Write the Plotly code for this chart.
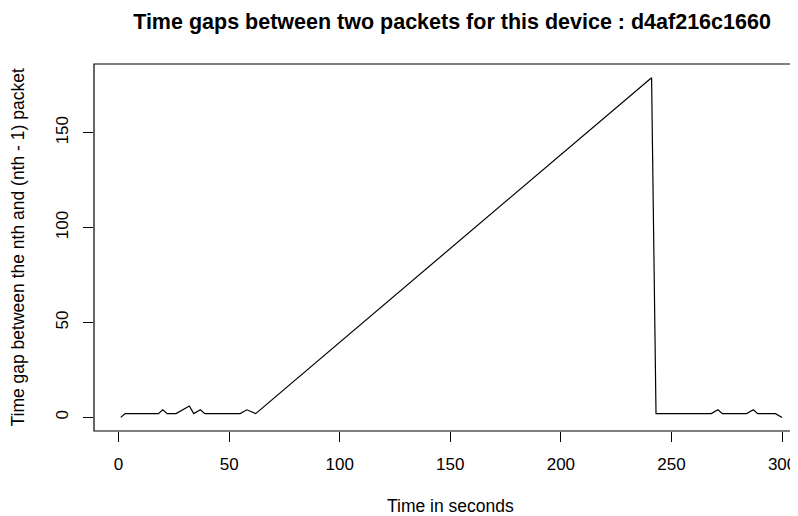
import plotly.graph_objects as go

# Data
time_s = [1, 3, 18, 20, 22, 26, 32, 34, 37, 39, 55, 58, 62, 241, 243, 268, 271, 273, 284, 287, 289, 297, 300]
gap_s = [0, 2, 2, 4, 2, 2, 6, 2, 4, 2, 2, 4, 2, 179, 2, 2, 4, 2, 2, 4, 2, 2, 0]
x_ticks = [0, 50, 100, 150, 200, 250, 300]
y_ticks = [0, 50, 100, 150]

title_text = "Time gaps between two packets for this device : d4af216c1660"
x_title = "Time in seconds"
y_title = "Time gap between the nth and (nth - 1) packet"

FONT = "Liberation Sans, Arial, sans-serif"
TICK_SIZE = 17
LAB_SIZE = 17.5

# The page body has an 8px margin, so the figure is sized to the visible area.
W, H = 790, 508

fig = go.Figure()
fig.add_trace(go.Scatter(x=time_s, y=gap_s, mode="lines",
                         line=dict(color="black", width=1.2), showlegend=False,
                         hoverinfo="skip"))

fig.update_layout(
    width=W, height=H,
    margin=dict(l=86, r=0, t=56, b=85, autoexpand=False),
    paper_bgcolor="white", plot_bgcolor="white",
    font=dict(family=FONT, color="black", size=TICK_SIZE),
    title=dict(text="<b>" + title_text + "</b>", x=444 / W, xanchor="center",
               y=1 - 13 / H, yanchor="middle", xref="container", yref="container",
               automargin=False,
               font=dict(size=21.5, family=FONT, color="black")),
)
fig.update_xaxes(range=[-11.1, 307.2], tickvals=x_ticks, ticktext=[str(v) for v in x_ticks],
                 ticks="outside", ticklen=10, tickcolor="black", tickwidth=1,
                 ticklabelstandoff=8, automargin=False,
                 showgrid=False, zeroline=False, showline=False,
                 tickfont=dict(size=TICK_SIZE, family=FONT, color="black"))
fig.update_yaxes(range=[-7.16, 186.2], tickvals=y_ticks, ticktext=[str(v) for v in y_ticks],
                 ticks="outside", ticklen=10, tickcolor="black", tickwidth=1,
                 tickangle=-90, ticklabelstandoff=8, automargin=False,
                 showgrid=False, zeroline=False, showline=False,
                 tickfont=dict(size=TICK_SIZE, family=FONT, color="black"))

# Plot box (right edge falls outside the canvas as in the reference)
fig.add_shape(type="rect", xref="paper", yref="paper", x0=0, x1=1.03, y0=0, y1=1,
              line=dict(color="black", width=1.2), fillcolor="rgba(0,0,0,0)")

fig.add_annotation(text=x_title, xref="x", yref="paper", x=150, y=0, yshift=-75,
                   showarrow=False, yanchor="middle",
                   font=dict(size=LAB_SIZE, family=FONT, color="black"))
fig.add_annotation(text=y_title, xref="paper", yref="y", x=0, y=89.5, xshift=-76,
                   showarrow=False, textangle=-90, xanchor="center",
                   font=dict(size=LAB_SIZE, family=FONT, color="black"))

fig.write_html("out.html")
